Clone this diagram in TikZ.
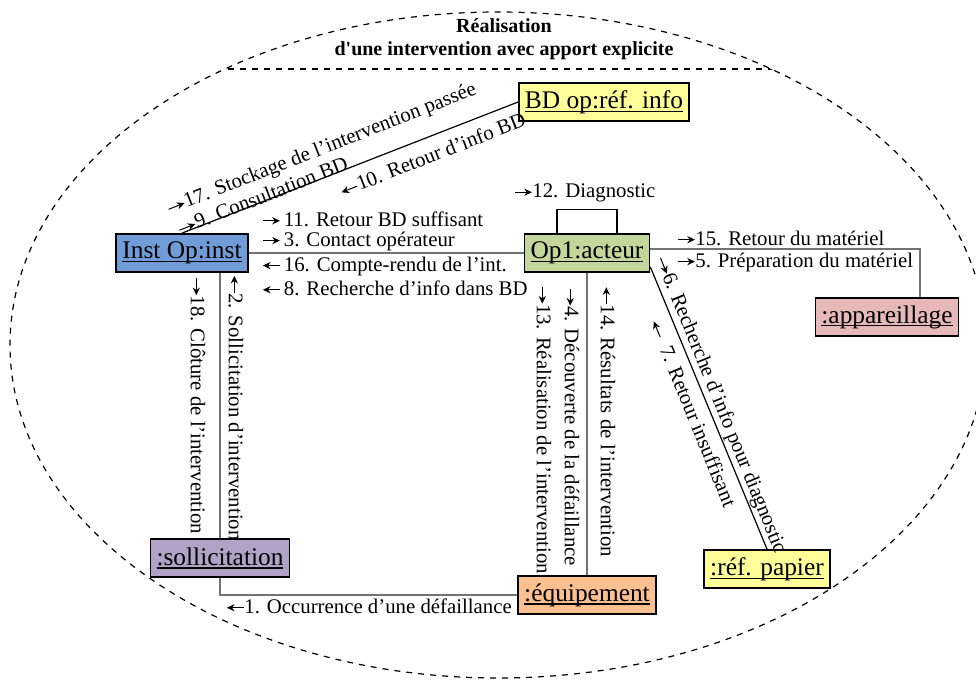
\documentclass[tikz,border=0pt]{standalone}
\usepackage{fontspec}
\setmainfont{Liberation Serif}
\usetikzlibrary{positioning, calc, arrows.meta}
\definecolor{instblue}{RGB}{112,157,216}
\definecolor{acteurgreen}{RGB}{196,215,155}
\definecolor{infoyellow}{RGB}{255,255,153}
\definecolor{appapink}{RGB}{230,185,184}
\definecolor{sollilav}{RGB}{179,162,199}
\definecolor{equippeach}{RGB}{250,192,144}
\newcommand{\objname}[1]{\setbox0=\hbox{#1}\rlap{\rule[-1.7pt]{\wd0}{0.55pt}}\box0}
\newcommand{\msgto}{\tikz[baseline=-2.7pt]\draw[x=1pt, y=1pt, line width=0.5pt, -{Stealth[length=3.8pt, width=3.6pt]}] (0,0) -- (8.5,0);}
\newcommand{\msgfrom}{\tikz[baseline=-2.7pt]\draw[x=1pt, y=1pt, line width=0.5pt, {Stealth[length=3.8pt, width=3.6pt]}-] (0,0) -- (8.5,0);}

\begin{document}
\begin{tikzpicture}[
    x=0.5pt, y=-0.5pt,
    obj/.style={rectangle, draw=black, line width=0.9pt, inner xsep=3pt, minimum height=19pt, font=\fontsize{12.7}{14}\selectfont},
    msg/.style={font=\fontsize{10.4}{12}\selectfont, inner sep=0pt},
    link/.style={draw=black!55, line width=0.7pt},
    diag/.style={draw=black, line width=0.6pt},
    frame/.style={dashed, line width=0.6pt}
]
    \useasboundingbox (0,0) rectangle (976,680);
    \draw[frame] (498,345) ellipse [x radius=244pt, y radius=166.5pt];
    \begin{scope}
        \clip (498,345) ellipse [x radius=244pt, y radius=166.5pt];
        \draw[frame] (0,69) -- (976,69);
    \end{scope}
    \node[font=\bfseries\fontsize{10}{11.5}\selectfont, align=center] (title) at (504,39) {R\'ealisation\\d\textquotesingle une intervention avec apport explicite};

    \node[obj, fill=infoyellow] (bd) at (604,102) {\objname{BD op:réf. info}};
    \node[obj, fill=instblue] (inst) at (182,253) {\objname{Inst Op:inst}};
    \node[obj, fill=acteurgreen] (op1) at (587,253) {\objname{Op1:acteur}};
    \node[obj, fill=appapink] (app) at (887,317) {\objname{:appareillage}};
    \node[obj, fill=sollilav] (soll) at (220,558) {\objname{:sollicitation}};
    \node[obj, fill=equippeach] (equip) at (587,595) {\objname{:équipement}};
    \node[obj, fill=infoyellow] (papier) at (767,569) {\objname{:réf. papier}};

    \draw[link] (inst) -- (op1);
    \draw[diag] (inst.north) -- (bd.west);
    \draw[link] (soll.north |- inst.south) -- (soll.north);
    \draw[link] (soll.south) |- (equip.west);
    \draw[link] (op1) -- (equip);
    \draw[diag] ([xshift=-15pt]op1.north) |- ([yshift=12pt]op1.north) -| ([xshift=15pt]op1.north);
    \draw[link] ([yshift=2pt]op1.east) -| ([xshift=16.5pt]app.north);
    \draw[diag] ([yshift=3pt]op1.south east) -- (papier.north);

    \node[msg, rotate=21.4, anchor=west] (m17) at (168,210) {\msgto17. Stockage de l’intervention passée};
    \node[msg, rotate=21.4, anchor=west] (m9) at (178,229) {\msgto9. Consultation BD};
    \node[msg, rotate=21.4, anchor=west] (m10) at (340,191) {\msgfrom10. Retour d’info BD};
    \node[msg, anchor=west] (m11) at (262,219) {\msgto\,11. Retour BD suffisant};
    \node[msg, anchor=west] (m3) at (262,241) {\msgto\,3. Contact opérateur};
    \node[msg, anchor=west] (m16) at (262,266) {\msgfrom\,16. Compte-rendu de l’int.};
    \node[msg, anchor=west] (m8) at (262,288) {\msgfrom\,8. Recherche d’info dans BD};
    \node[msg, anchor=west] (m12) at (514,193) {\msgto12. Diagnostic};
    \node[msg, anchor=west] (m15) at (677,238) {\msgto15. Retour du matériel};
    \node[msg, anchor=west] (m5) at (677,262) {\msgto5. Préparation du matériel};
    \node[msg, anchor=west] (m1) at (226,606) {\msgfrom1. Occurrence d’une défaillance};
    \node[msg, rotate=-90] (m18) at (198,406) {\msgto18. Clôture de l’intervention};
    \node[msg, rotate=-90] (m2) at (236,408) {\msgfrom2. Sollicitation d’intervention};
    \node[msg, rotate=-90] (m13) at (544,430) {\msgto13. Réalisation de l’intervention};
    \node[msg, rotate=-90] (m4) at (572,427) {\msgto4. Découverte de la défaillance};
    \node[msg, rotate=-90] (m14) at (608,422) {\msgfrom14. Résultats de l’intervention};
    \node[msg, rotate=-67.85] (m6) at (720,405) {\msgto6. Recherche d’info pour diagnostic};
    \node[msg, rotate=-67.85] (m7) at (693,413) {\msgfrom\ \ 7. Retour insuffisant};
\end{tikzpicture}
\end{document}
